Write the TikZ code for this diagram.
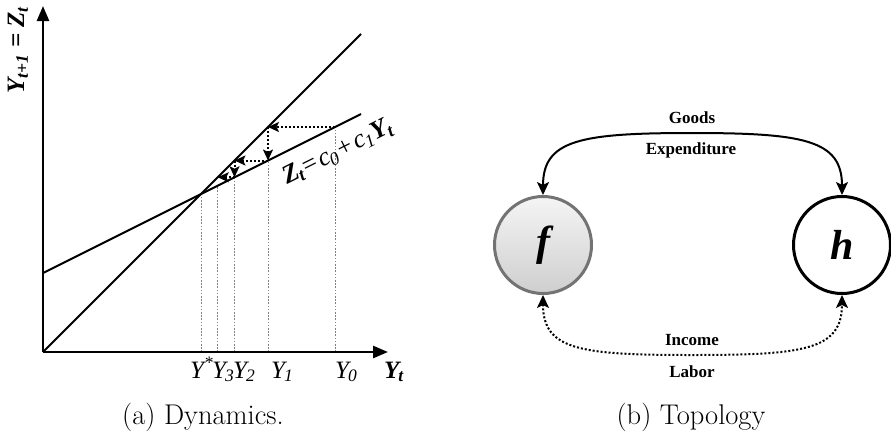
\documentclass[tikz,border=0pt]{standalone}
\usepackage{fontspec}
\setmainfont{Liberation Serif}
\newfontfamily\lmr{Latin Modern Roman}
\usetikzlibrary{arrows.meta}
\begin{document}
\begin{tikzpicture}[x=1pt,y=-1pt,
  axis/.style={line width=2.6pt,-{Triangle[length=15pt,width=12pt]}},
  graphline/.style={line width=2pt},
  guide/.style={line width=0.8pt,gray,dash pattern=on 1.6pt off 1.6pt},
  stepar/.style={line width=2pt,dash pattern=on 2pt off 2pt,-{Stealth[length=11pt,width=10pt,inset=2.5pt]}},
  ylab/.style={anchor=base west,inner sep=0pt,font=\rmfamily\fontsize{25}{27}\selectfont\itshape},
  flow/.style={line width=2pt,{Stealth[length=13pt,width=12pt,inset=3pt]}-{Stealth[length=13pt,width=12pt,inset=3pt]}},
  flowlab/.style={anchor=base,inner sep=0pt,font=\rmfamily\fontsize{17}{19}\selectfont\bfseries},
  captext/.style={anchor=base,inner sep=0pt,font=\lmr\fontsize{28.5}{30}\selectfont},
  agent/.style={circle,minimum size=97pt,inner sep=0pt,line width=3pt,font=\rmfamily\fontsize{42}{44}\selectfont\bfseries\itshape}]
\useasboundingbox (0,0) rectangle (891,440);
% ---------- (a) Dynamics ----------
\coordinate (O) at (43,352);
\coordinate (Ytop) at (43,6);
\coordinate (Xend) at (388,352);
\coordinate (Dend) at (361,34);
\coordinate (Zstart) at (43,273);
\coordinate (Zend) at (361,114);
\coordinate (P0) at (335,127);
\coordinate (A1) at (268,127);
\coordinate (B1) at (268,160.5);
\coordinate (A2) at (234.5,160.5);
\coordinate (B2) at (234.5,177.25);
\coordinate (A3) at (217.75,177.25);
\coordinate (B3) at (217.75,185.6);
\coordinate (S) at (201,194);
\coordinate (X0) at (335,352);
\coordinate (X1) at (268,352);
\coordinate (X2) at (234.5,352);
\coordinate (X3) at (217.75,352);
\coordinate (XS) at (201,352);
\draw[guide] (X0) -- (P0);
\draw[guide] (X1) -- (B1);
\draw[guide] (X2) -- (B2);
\draw[guide] (X3) -- (B3);
\draw[guide] (XS) -- (S);
\draw[graphline] (O) -- (Dend);
\draw[graphline] (Zstart) -- (Zend);
\draw[stepar] (P0) -- (A1);
\draw[stepar] (A1) -- (B1);
\draw[stepar] (B1) -- (A2);
\draw[stepar] (A2) -- (B2);
\draw[stepar] (B2) -- (A3);
\draw[axis] (O) -- (Ytop);
\draw[axis] (O) -- (Xend);
\node[ylab] (lS) at (190,378) {Y\textsuperscript{*}};
\node[ylab] (l3) at (212,378) {Y\kern-1pt\textsubscript{3}};
\node[ylab] (l2) at (233,378) {Y\kern-1pt\textsubscript{2}};
\node[ylab] (l1) at (271,378) {Y\kern-1pt\textsubscript{1}};
\node[ylab] (l0) at (335,378) {Y\kern-1pt\textsubscript{0}};
\node[ylab,font=\rmfamily\fontsize{25}{27}\selectfont\bfseries\itshape] (lYt) at (384,378) {Y\kern-1pt\textsubscript{t}};
\node[rotate=90,inner sep=0pt,font=\rmfamily\fontsize{25}{27}\selectfont\bfseries\itshape] (lYax) at (18,50) {Y\textsubscript{t+1} = Z\textsubscript{t}};
\node[rotate=26.57,anchor=base west,inner sep=0pt,font=\rmfamily\fontsize{26}{28}\selectfont\itshape] (lZ) at (287,185)
  {\textbf{Z}\kern-1pt\textsubscript{\textbf{t}}=\kern1pt c\kern-1pt\textsubscript{0}\kern1pt+\kern1pt c\kern-1pt\textsubscript{1}\textbf{Y}\kern-1pt\textsubscript{\textbf{t}}};
\node[captext] (capa) at (203,424) {(a) Dynamics.};
% ---------- (b) Topology ----------
\node[agent,draw=black!55,top color=gray!8,bottom color=gray!38] (f) at (543,245) {f};
\node[agent,draw=black,fill=white] (h) at (842,245) {h};
\coordinate (top) at (692,133);
\coordinate (bot) at (692,355);
\draw[flow] (f.north) .. controls +(0,-55) and +(-112,0) .. (top) .. controls +(112,0) and +(0,-55) .. (h.north);
\draw[flow,dash pattern=on 2pt off 2pt] (f.south) .. controls +(0,55) and +(-112,0) .. (bot) .. controls +(112,0) and +(0,55) .. (h.south);
\node[flowlab] (goods) at (692,123) {Goods};
\node[flowlab] (exp) at (691,154) {Expenditure};
\node[flowlab] (inc) at (692,345) {Income};
\node[flowlab] (lab) at (692,377) {Labor};
\node[captext] (capb) at (691,424) {(b) Topology};
\end{tikzpicture}
\end{document}
